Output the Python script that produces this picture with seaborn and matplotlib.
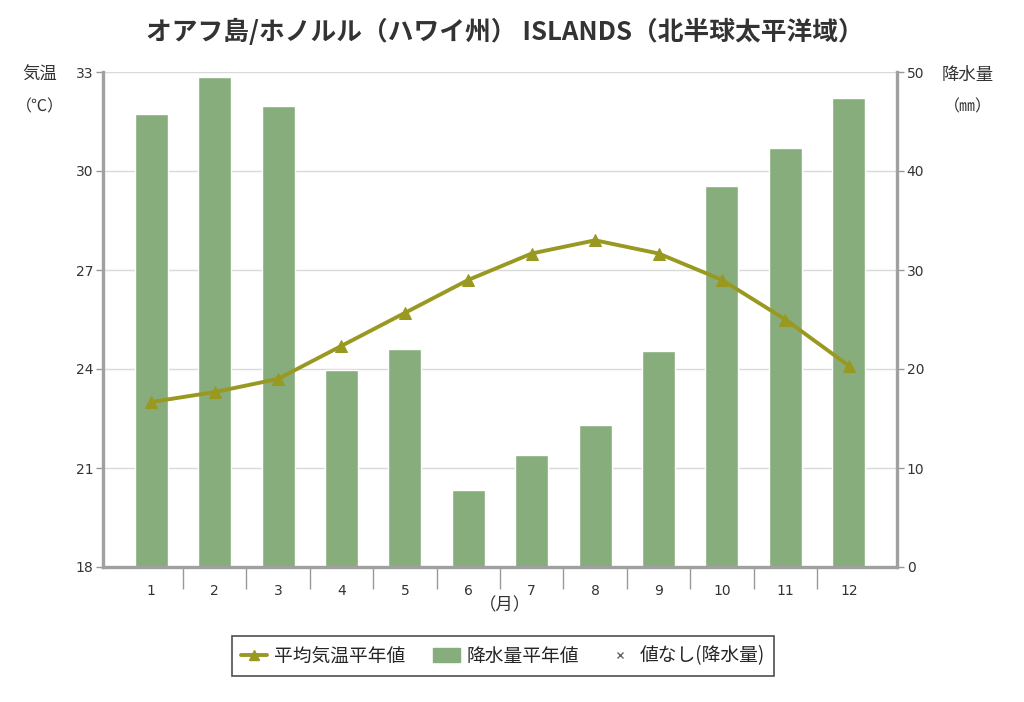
import numpy as np
import pandas as pd
import matplotlib
matplotlib.use("Agg")
import matplotlib.pyplot as plt
import seaborn as sns
from matplotlib.lines import Line2D
from matplotlib.patches import Patch

months = ["1", "2", "3", "4", "5", "6", "7", "8", "9", "10", "11", "12"]
temperature = [23.0, 23.3, 23.7, 24.7, 25.7, 26.7, 27.5, 27.9, 27.5, 26.7, 25.5, 24.1]
precipitation = [45.8, 49.5, 46.6, 19.9, 22.0, 7.8, 11.3, 14.3, 21.8, 38.5, 42.3, 47.4]
temp_ticks = [18, 21, 24, 27, 30, 33]
prec_ticks = [0, 10, 20, 30, 40, 50]

title = "オアフ島/ホノルル（ハワイ州） ISLANDS（北半球太平洋域）"

sns.set_theme(style="white")
plt.rcParams['font.family'] = ['Noto Sans CJK JP', 'DejaVu Sans']

BAR = "#87ad7d"
LINE = "#999922"
SPINE = "#a0a0a0"
TXT = "#333333"
NUMFONT = "DejaVu Sans"

df = pd.DataFrame({"month": months, "pos": np.arange(len(months)),
                   "temp": temperature, "prec": precipitation})

fig = plt.figure(figsize=(10.24, 7.02), dpi=100)
ax = fig.add_axes([103/1024, 1-567/702, (897-103)/1024, (567-72)/702])
ax2 = ax.twinx()

# precipitation bars on right axis (behind)
sns.barplot(data=df, x="month", y="prec", ax=ax2, color=BAR, width=0.52,
            saturation=1, zorder=2)
ax2.set_ylim(0, 50)
ax2.set_yticks(prec_ticks, labels=[str(v) for v in prec_ticks],
               fontfamily=NUMFONT, fontsize=10, color=TXT)
for y in prec_ticks:
    ax2.axhline(y, color="#d9d9d9", lw=1.0, zorder=0)

# temperature line on left axis (front)
ax.set_zorder(ax2.get_zorder() + 1)
ax.patch.set_visible(False)
sns.lineplot(data=df, x="pos", y="temp", ax=ax, color=LINE, lw=2.8,
             marker="^", markersize=8, markeredgecolor=LINE, zorder=5)
ax.set_ylim(18, 33)
ax.set_yticks(temp_ticks, labels=[str(v) for v in temp_ticks],
              fontfamily=NUMFONT, fontsize=10, color=TXT)

pad = 0.26
ax.set_xlim(-0.5 - pad, len(months) - 0.5 + pad)
ax2.set_xlim(-0.5 - pad, len(months) - 0.5 + pad)

# x ticks: labels at centres, separators at boundaries
ax.set_xticks(np.arange(len(months)), labels=months,
              fontfamily=NUMFONT, fontsize=10, color=TXT)
ax.set_xticks(np.arange(len(months) - 1) + 0.5, minor=True)
ax.tick_params(axis="x", which="major", length=0, pad=12)
ax.tick_params(axis="x", which="minor", length=16, width=1, color="#999999", bottom=True)
ax2.tick_params(axis="x", which="both", bottom=False, labelbottom=False)

ax.tick_params(axis="y", which="major", length=5, width=1, color="#999999",
               pad=2, left=True)
ax2.tick_params(axis="y", which="major", length=5, width=1, color="#999999",
                pad=2, right=True)

for a in (ax, ax2):
    a.set_xlabel("")
    a.set_ylabel("")
    a.spines["top"].set_visible(False)
    for s in ("left", "right", "bottom"):
        a.spines[s].set_color(SPINE)
        a.spines[s].set_linewidth(2.4)
ax.spines["right"].set_visible(False)
ax2.spines["left"].set_visible(False)
ax2.spines["bottom"].set_visible(False)

# labels
fig.text(505/1024, 1-32/702, title, ha="center", va="center",
         fontsize=18.5, fontweight="bold", color=TXT)
fig.text(40/1024, 1-75/702, "気温", ha="center", va="center", fontsize=12.5, color=TXT)
fig.text(40/1024, 1-107/702, "（℃）", ha="center", va="center", fontsize=11.5, color=TXT)
fig.text(968/1024, 1-75/702, "降水量", ha="center", va="center", fontsize=12.5, color=TXT)
fig.text(968/1024, 1-107/702, "（㎜）", ha="center", va="center", fontsize=11.5, color=TXT)
fig.text(505/1024, 1-605/702, "（月）", ha="center", va="center", fontsize=12.5, color=TXT)

handles = [
    Line2D([0], [0], color=LINE, lw=2.8, marker="^", markersize=7),
    Patch(facecolor=BAR, edgecolor=BAR),
    Line2D([0], [0], color="#666666", lw=0, marker="x", markersize=5),
]
labels = ["平均気温平年値", "降水量平年値", "値なし(降水量)"]
leg = fig.legend(handles, labels, loc="center", bbox_to_anchor=(503/1024, 1-656/702),
                 ncol=3, fontsize=13.5, frameon=True, fancybox=False,
                 handlelength=1.4, handletextpad=0.35, columnspacing=1.5,
                 borderpad=0.5, edgecolor="#222222")
leg.get_frame().set_linewidth(1.2)

fig.savefig("out.png", dpi=100)
